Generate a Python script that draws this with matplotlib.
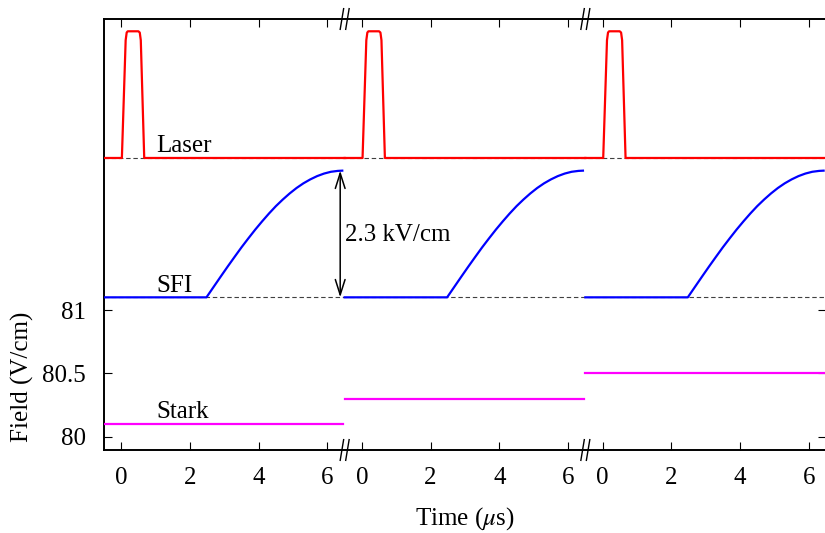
import matplotlib
matplotlib.use('Agg')
import matplotlib.pyplot as plt
from matplotlib import transforms

# three shots drawn side by side, each one runs from -0.5 to 6.5 us
panel_offsets = [0, 7, 14]
tick_values = [0, 2, 4, 6]
tick_labels = ['0', '2', '4', '6']

# Stark field for each shot (V/cm)
stark_levels = [80.1, 80.3, 80.5]
stark_t = [-0.5, 6.46]

# SFI ramp (arbitrary units, 1 = 2.3 kV/cm) on top of its baseline
sfi_base = 81.1
sfi_t = [-0.5, 2.48, 2.7, 2.9, 3.1, 3.3, 3.5, 3.7, 3.9, 4.1, 4.3, 4.5, 4.7,
         4.9, 5.1, 5.3, 5.5, 5.7, 5.9, 6.1, 6.3, 6.43]
sfi_amp = [0, 0, 0.087, 0.166, 0.244, 0.32, 0.395, 0.466, 0.535, 0.6, 0.662, 0.72, 0.772,
           0.82, 0.863, 0.9, 0.931, 0.957, 0.977, 0.991, 0.998, 1.0]

# laser pulse (arbitrary units) on top of its baseline
laser_base = 82.2
laser_t = [-0.5, 0.02, 0.13, 0.16, 0.19, 0.5, 0.54, 0.57, 0.67, 6.5]
laser_amp = [0, 0, 0.93, 0.99, 1.0, 1.0, 0.99, 0.93, 0, 0]

plt.rcParams['font.family'] = ['Liberation Serif', 'DejaVu Serif']
plt.rcParams['mathtext.fontset'] = 'stix'
plt.rcParams['font.size'] = 18

fig = plt.figure(figsize=(8.25, 5.33), dpi=100)
ax = fig.add_axes([104 / 825, 83 / 533, 722 / 825, 431 / 533])

# dashed baselines under the laser and SFI traces
for base in (laser_base, sfi_base):
    ax.plot([-0.5, 20.5], [base, base], ls=(0, (4, 2.5)), color='#404040', lw=0.8, zorder=1)

for k, off in enumerate(panel_offsets):
    ax.plot([t + off for t in laser_t], [laser_base + a for a in laser_amp],
            color='#ff0000', lw=1.6, zorder=3)
    ax.plot([t + off for t in sfi_t], [sfi_base + a for a in sfi_amp],
            color='#0000ff', lw=1.6, zorder=3)
    ax.plot([t + off for t in stark_t], [stark_levels[k], stark_levels[k]],
            color='#ff00ff', lw=1.6, zorder=3)

# amplitude of the SFI ramp
ax.annotate('', xy=(6.37, sfi_base + 1.0), xytext=(6.37, sfi_base),
            arrowprops=dict(arrowstyle='<->,head_length=1.1,head_width=0.35',
                            mutation_scale=10, lw=1.1, color='black',
                            shrinkA=0, shrinkB=0))
ax.text(6.51, 81.545, '2.3 kV/cm', ha='left', va='baseline')

ax.text(1.01, 82.25, 'Laser', ha='left', va='baseline')
ax.text(1.01, 81.145, 'SFI', ha='left', va='baseline')
ax.text(1.01, 80.15, 'Stark', ha='left', va='baseline')

ax.set_xlim(-0.5, 20.5)
ax.set_ylim(79.895, 83.297)
ax.set_xticks([t + off for off in panel_offsets for t in tick_values])
ax.set_xticklabels(tick_labels * len(panel_offsets))
ax.set_yticks([80, 80.5, 81])
ax.set_yticklabels(['80', '80.5', '81'])
ax.tick_params(direction='in', top=True, right=True, length=6, width=0.8)
ax.tick_params(axis='x', pad=12)
ax.tick_params(axis='y', pad=13)

for side in ('left', 'top', 'bottom'):
    ax.spines[side].set_linewidth(1.4)
ax.spines['right'].set_visible(False)

# "//" break marks between the shots
trans = transforms.blended_transform_factory(ax.transData, ax.transAxes)
for xb in (6.5, 13.5):
    for y0 in (0, 1):
        for dx in (-0.08, 0.08):
            ax.plot([xb + dx - 0.05, xb + dx + 0.05], [y0 - 0.024, y0 + 0.024],
                    transform=trans, color='black', lw=1.0, clip_on=False, zorder=5)

ax.set_xlabel(r'Time ($\mu$s)', va='center')
ax.xaxis.set_label_coords(0.5, (450 - 519) / 431)
ax.set_ylabel('Field (V/cm)', va='center')
ax.yaxis.set_label_coords((22.5 - 104) / 722, (450 - 377) / 431)

fig.savefig('out.png', dpi=100)
